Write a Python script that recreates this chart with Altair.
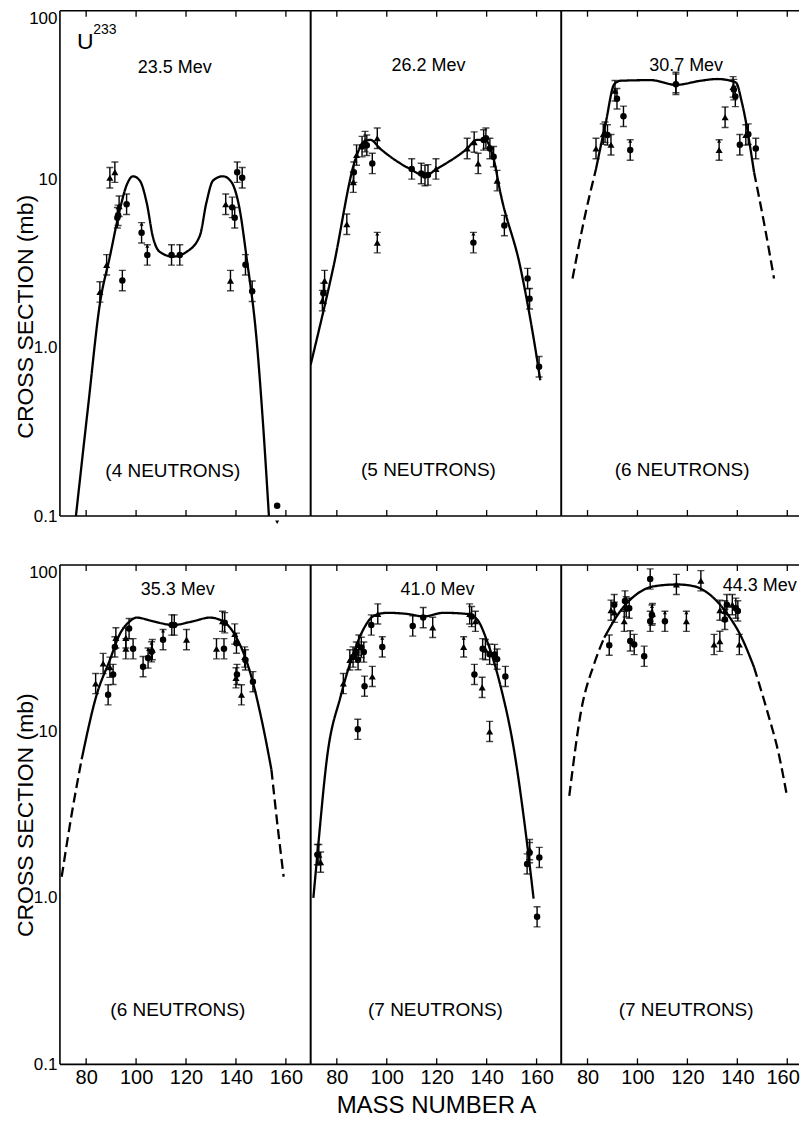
import altair as alt
import pandas as pd

FONT = "Liberation Sans"
X_DOMAIN = [69.5, 169.9]
X_DOMAIN_CUT = [69.5, 164.7]
Y_DOMAIN = [0.1, 100]
TICK_A = [80, 100, 120, 140, 160]
Y_LABELS = [0.1, 1, 10, 100]
REL_ERR = 0.15  # typical relative error bar

ENERGY = ["23.5 Mev", "26.2 Mev", "30.7 Mev", "35.3 Mev", "41.0 Mev", "44.3 Mev"]
ENERGY_A = [115.5, 116.7, 119.5, 116.7, 120.3, 134.2]
ENERGY_S = [45.9, 47.0, 47.0, 70.5, 70.5, 74.5]
NEUTRONS = ["(4 NEUTRONS)", "(5 NEUTRONS)", "(6 NEUTRONS)", "(6 NEUTRONS)", "(7 NEUTRONS)", "(7 NEUTRONS)"]
NEUTRONS_A = [114.7, 116.7, 117.9, 116.7, 119.5, 119.5]
NEUTRONS_S = [0.185, 0.187, 0.187, 0.211, 0.211, 0.211]
TARGET = "U"
TARGET_MASS = "233"
TARGET_A = [76.3, 82.8]
TARGET_S = [65.5, 76.9]

# curves: (A, sigma, part)  part: l/r = dashed extrapolation, m = measured region
CURVE_1 = [(75.9, 0.10, "m"), (80.8, 0.45, "m"), (85.5, 1.82, "m"), (89.5, 3.47, "m"), (93.5, 6.6, "m"),
           (96.2, 9.2, "m"), (98.8, 10.4, "m"), (101.5, 9.8, "m"), (104.2, 7.3, "m"), (106.8, 4.5, "m"),
           (109.5, 3.7, "m"), (114.8, 3.47, "m"), (120.2, 3.7, "m"), (125.5, 4.6, "m"), (128.2, 7.3, "m"),
           (130.8, 9.8, "m"), (134.8, 10.4, "m"), (138.2, 9.6, "m"), (141.5, 6.6, "m"), (144.2, 3.47, "m"),
           (148.2, 1.14, "m"), (150.8, 0.36, "m"), (153.2, 0.10, "m")]
CURVE_2 = [(69.5, 0.79, "m"), (78.6, 3.0, "m"), (87.5, 13.2, "m"), (90.8, 16.7, "m"), (93.5, 17.1, "m"),
           (97.3, 15.2, "m"), (109.3, 11.5, "m"), (115.3, 10.5, "m"), (120.0, 11.5, "m"), (132.2, 15.2, "m"),
           (136.0, 17.1, "m"), (139.3, 17.1, "m"), (142.8, 13.2, "m"), (145.5, 8.3, "m"), (153.5, 3.0, "m"),
           (158.8, 1.14, "m"), (161.5, 0.64, "m")]
CURVE_3 = [(74.0, 2.57, "l"), (78.7, 5.8, "l"), (83.4, 11.5, "l"),
           (83.4, 11.5, "m"), (87.4, 22.0, "m"), (90.7, 36.6, "m"), (93.4, 38.4, "m"), (105.4, 38.7, "m"),
           (115.4, 36.3, "m"), (125.4, 38.4, "m"), (132.0, 39.3, "m"), (139.4, 37.5, "m"), (142.0, 27.8, "m"),
           (146.7, 11.0, "m"),
           (146.7, 11.0, "r"), (150.7, 5.5, "r"), (154.7, 2.57, "r")]
CURVE_4 = [(70.2, 1.34, "l"), (74.2, 3.18, "l"), (78.2, 6.8, "l"),
           (78.2, 6.8, "m"), (84.2, 16.6, "m"), (89.5, 26.9, "m"), (93.5, 38.5, "m"), (97.5, 45.9, "m"),
           (100.2, 48.3, "m"), (106.8, 45.9, "m"), (114.8, 43.6, "m"), (122.8, 45.9, "m"), (129.5, 48.3, "m"),
           (134.8, 45.9, "m"), (140.2, 36.6, "m"), (145.5, 23.1, "m"), (150.8, 10.8, "m"), (154.2, 5.9, "m"),
           (154.2, 5.9, "r"), (156.8, 2.6, "r"), (159.1, 1.34, "r")]
CURVE_5 = [(70.6, 1.0, "m"), (72.2, 1.82, "m"), (76.2, 7.2, "m"), (81.5, 16.2, "m"), (86.8, 29.9, "m"),
           (90.8, 41.5, "m"), (94.8, 49.5, "m"), (100.2, 51.6, "m"), (108.2, 50.8, "m"), (114.8, 49.1, "m"),
           (122.8, 51.6, "m"), (132.2, 50.8, "m"), (136.2, 47.1, "m"), (140.2, 34.8, "m"), (145.5, 18.9, "m"),
           (150.8, 8.0, "m"), (156.2, 2.12, "m"), (158.8, 0.99, "m")]
CURVE_6 = [(72.7, 4.1, "l"), (77.4, 13.2, "l"), (82.7, 25.6, "l"), (86.7, 36.6, "l"),
           (86.7, 36.6, "m"), (93.4, 53.5, "m"), (100.0, 67.3, "m"), (106.7, 74.5, "m"), (116.0, 76.4, "m"),
           (122.7, 74.5, "m"), (129.4, 65.6, "m"), (136.0, 50.8, "m"), (141.4, 37.5, "m"), (146.7, 24.3, "m"),
           (146.7, 24.3, "r"), (152.0, 13.2, "r"), (156.7, 7.2, "r"), (160.0, 4.0, "r")]

# measured points: (A, sigma, limit)   limit: "" / "lower" / "upper"
TRI_1 = [(85.5, 2.14, ""), (88.2, 3.1, ""), (89.5, 10.2, ""), (91.5, 11.0, ""), (93.2, 6.9, ""),
         (135.9, 7.1, ""), (137.8, 2.5, "")]
CIR_1 = [(92.5, 5.9, ""), (92.8, 6.1, ""), (96.2, 7.1, ""), (94.5, 2.5, ""), (102.2, 4.8, "lower"),
         (104.5, 3.55, "lower"), (114.2, 3.55, ""), (117.5, 3.55, ""), (138.5, 6.8, ""), (139.5, 5.9, ""),
         (140.5, 11.0, ""), (142.5, 10.2, ""), (143.8, 3.1, ""), (146.5, 2.16, ""), (156.5, 0.115, "upper")]
TRI_2 = [(74.2, 1.9, ""), (75.1, 2.5, ""), (84.0, 5.4, ""), (86.6, 9.6, ""), (87.9, 13.9, ""),
         (91.3, 16.7, ""), (96.2, 17.5, ""), (96.2, 4.2, "lower"), (119.7, 11.5, ""), (132.2, 15.2, ""),
         (135.0, 16.6, ""), (136.6, 12.4, ""), (144.2, 9.8, "")]
CIR_2 = [(74.6, 2.1, ""), (86.8, 11.0, ""), (90.1, 15.6, ""), (92.0, 15.9, ""), (94.2, 12.4, ""),
         (110.0, 11.5, ""), (113.8, 10.8, ""), (115.3, 10.5, ""), (116.5, 10.6, ""), (134.7, 4.2, "lower"),
         (138.8, 17.1, ""), (139.7, 17.5, ""), (141.3, 15.2, ""), (142.8, 13.6, ""), (147.1, 5.3, ""),
         (156.4, 2.57, ""), (157.2, 1.95, ""), (161.0, 0.77, "")]
TRI_3 = [(83.4, 15.2, ""), (86.3, 18.5, ""), (87.0, 19.0, ""), (89.4, 16.0, ""), (91.0, 33.5, ""),
         (115.4, 37.5, ""), (132.7, 14.9, "lower"), (135.1, 23.3, ""), (138.3, 35.3, ""), (143.4, 18.3, "")]
CIR_3 = [(88.0, 18.3, ""), (91.8, 30.0, ""), (94.4, 23.6, ""), (97.1, 14.9, "lower"), (115.4, 36.6, ""),
         (138.6, 34.0, ""), (139.2, 31.0, ""), (141.0, 16.0, ""), (144.4, 18.5, ""), (147.4, 15.2, "")]
TRI_4 = [(83.8, 19.4, ""), (86.8, 25.6, ""), (89.5, 24.3, ""), (91.9, 36.5, ""), (95.9, 36.5, ""),
         (95.9, 31.4, ""), (106.5, 31.0, ""), (120.2, 35.6, ""), (132.2, 31.4, ""), (134.6, 45.9, ""),
         (139.5, 38.5, ""), (140.0, 21.0, ""), (142.2, 16.6, ""), (143.5, 28.0, "")]
CIR_4 = [(88.8, 16.6, ""), (90.8, 22.0, ""), (91.5, 32.2, ""), (97.2, 41.5, ""), (98.8, 31.4, ""),
         (102.8, 24.5, ""), (104.8, 27.6, "lower"), (106.2, 30.1, "lower"), (110.8, 35.6, "lower"),
         (114.3, 43.6, ""), (115.3, 43.6, ""), (135.2, 31.4, ""), (135.5, 45.0, ""), (140.2, 33.9, ""),
         (140.4, 22.0, ""), (143.8, 26.9, ""), (146.8, 19.9, "")]
TRI_5 = [(72.8, 1.82, ""), (73.5, 1.64, ""), (82.6, 19.4, ""), (85.2, 26.9, ""), (88.8, 33.0, ""),
         (94.2, 21.4, ""), (96.4, 50.8, ""), (118.4, 42.2, ""), (130.8, 32.2, "lower"), (133.2, 50.8, ""),
         (135.5, 45.9, ""), (138.2, 18.4, ""), (139.5, 31.0, ""), (141.2, 10.0, ""), (157.2, 1.95, "")]
CIR_5 = [(72.2, 1.82, ""), (86.5, 28.0, ""), (87.8, 30.0, ""), (88.5, 27.0, ""), (89.8, 32.0, ""),
         (90.8, 30.0, ""), (88.4, 10.3, ""), (91.1, 18.7, ""), (93.8, 43.6, ""), (98.2, 32.2, "lower"),
         (110.4, 43.0, ""), (114.6, 48.3, ""), (134.0, 49.0, ""), (135.1, 22.0, ""), (138.4, 31.4, ""),
         (141.2, 29.1, ""), (143.2, 29.0, ""), (144.2, 27.2, ""), (147.5, 21.4, ""), (156.2, 1.6, ""),
         (157.2, 1.87, ""), (161.1, 1.75, ""), (160.2, 0.77, "")]
TRI_6 = [(89.4, 53.5, ""), (90.8, 52.0, ""), (94.7, 45.9, ""), (95.5, 56.0, ""), (106.0, 51.0, ""),
         (115.6, 76.4, ""), (119.6, 45.9, "lower"), (125.4, 80.4, ""), (130.7, 33.3, ""), (133.0, 34.8, ""),
         (133.0, 53.5, ""), (135.0, 53.0, ""), (138.0, 57.8, ""), (140.8, 33.3, "")]
CIR_6 = [(88.7, 33.0, ""), (90.7, 57.8, ""), (95.0, 60.8, ""), (96.7, 55.0, ""), (97.1, 35.0, ""),
         (98.7, 33.3, ""), (102.7, 28.3, ""), (105.1, 82.4, ""), (105.1, 45.9, ""), (105.8, 50.0, "lower"),
         (111.0, 45.9, "lower"), (135.0, 47.1, ""), (135.8, 57.8, ""), (139.4, 55.0, ""), (140.2, 53.0, "")]

CURVES = [CURVE_1, CURVE_2, CURVE_3, CURVE_4, CURVE_5, CURVE_6]
TRIS = [TRI_1, TRI_2, TRI_3, TRI_4, TRI_5, TRI_6]
CIRS = [CIR_1, CIR_2, CIR_3, CIR_4, CIR_5, CIR_6]

W = 251
W_CUT = 238
H_TOP = 506
H_BOT = 500
ONE = pd.DataFrame({"k": [0]})


def panel(i, width, xdom, height, show_y, x_labels, x_title, title_y, right_border):
    xs = alt.Scale(domain=xdom, nice=False, zero=False)
    ys = alt.Scale(type="log", domain=Y_DOMAIN, nice=False)
    if x_labels:
        kw = {}
        if not right_border:
            kw = dict(labelFlush=20, labelFlushOffset=12)
        xaxis = alt.Axis(values=TICK_A, format="d", ticks=False, domain=False, grid=False,
                         labelFont=FONT, labelFontSize=20, labelColor="black", labelPadding=3,
                         title=x_title if x_title else None, titleFont=FONT, titleFontSize=24,
                         titleFontWeight="normal", titleColor="black", titlePadding=6, **kw)
    else:
        xaxis = None
    if show_y:
        yaxis = alt.Axis(values=Y_LABELS,
                         labelExpr="datum.value >= 10 ? format(datum.value, 'd') : format(datum.value, '.1f')",
                         ticks=False, domain=False, grid=False, labelFont=FONT, labelFontSize=17,
                         labelColor="black", labelPadding=3,
                         labelBaseline={"condition": {"test": "datum.value >= 100", "value": "top"}, "value": "middle"},
                         title="CROSS SECTION (mb)", titleFont=FONT, titleFontSize=23, titleFontWeight="normal",
                         titleColor="black", titleX=-27, titleY=title_y, titleBaseline="alphabetic")
    else:
        yaxis = None

    def X(field="A"):
        return alt.X(f"{field}:Q", scale=xs, axis=xaxis)

    def Y(field):
        return alt.Y(f"{field}:Q", scale=ys, axis=yaxis)

    curve = pd.DataFrame(CURVES[i], columns=["A", "sigma", "part"])
    pts = pd.DataFrame(
        [(a, s, l, "circle") for a, s, l in CIRS[i]] + [(a, s, l, "triangle") for a, s, l in TRIS[i]],
        columns=["A", "sigma", "limit", "kind"])
    ticks = pd.DataFrame({"A": TICK_A})

    line = alt.Chart(curve).mark_line(color="black", strokeWidth=2.3, interpolate="monotone", clip=True).encode(
        x=X(), y=Y("sigma"), detail="part:N",
        strokeDash=alt.StrokeDash("part:N", scale=alt.Scale(domain=["l", "m", "r"], range=[[10, 5], [1, 0], [10, 5]]),
                                  legend=None))
    base = alt.Chart(pts).transform_filter("datum.limit != 'upper'").transform_calculate(
        lo=f"datum.sigma / (1 + {REL_ERR})", hi=f"datum.sigma * (1 + {REL_ERR})")
    err = base.mark_rule(color="black", strokeWidth=1.4, clip=True).encode(x=X(), y=Y("lo"), y2="hi:Q")
    cap_lo = base.mark_tick(color="black", orient="horizontal", size=7, thickness=1.4, clip=True).encode(
        x=X(), y=Y("lo"))
    cap_hi = base.mark_tick(color="black", orient="horizontal", size=7, thickness=1.4, clip=True).encode(
        x=X(), y=Y("hi"))
    cir = alt.Chart(pts).transform_filter("datum.kind == 'circle'").mark_point(
        shape="circle", filled=True, size=42, color="black", opacity=1).encode(x=X(), y=Y("sigma"))
    tri = alt.Chart(pts).transform_filter("datum.kind == 'triangle'").mark_point(
        shape="triangle-up", filled=True, size=50, color="black", opacity=1).encode(x=X(), y=Y("sigma"))
    up = alt.Chart(pts).transform_filter("datum.limit == 'lower'").transform_calculate(
        ay="datum.sigma * 1.13").mark_point(shape="triangle-up", filled=True, size=16, color="black",
                                            opacity=1).encode(x=X(), y=Y("ay"))
    dn = alt.Chart(pts).transform_filter("datum.limit == 'upper'").transform_calculate(
        ay="datum.sigma * 0.8").mark_point(shape="triangle-down", filled=True, size=16, color="black",
                                           opacity=1).encode(x=X(), y=Y("ay"))
    texts = pd.DataFrame({"A": [ENERGY_A[i], NEUTRONS_A[i]], "sigma": [ENERGY_S[i], NEUTRONS_S[i]],
                          "label": [ENERGY[i], NEUTRONS[i]]})
    align = "left" if i == 5 else "center"
    etext = alt.Chart(texts.iloc[[0]]).mark_text(font=FONT, fontSize=18, color="black", align=align,
                                                  baseline="middle", clip=True).encode(
        x=X(), y=Y("sigma"), text="label:N")
    ntext = alt.Chart(texts.iloc[[1]]).mark_text(font=FONT, fontSize=19, color="black", align="center",
                                                  baseline="middle").encode(x=X(), y=Y("sigma"), text="label:N")
    top_t = alt.Chart(ticks).mark_rule(color="black", strokeWidth=1.3).encode(
        x=X(), y=alt.value(0), y2=alt.value(6))
    bot_t = alt.Chart(ticks).mark_rule(color="black", strokeWidth=1.3).encode(
        x=X(), y=alt.value(height), y2=alt.value(height - 6))
    # frame of the panel
    fl = alt.Chart(ONE).mark_rule(color="black", strokeWidth=1.6).encode(
        x=alt.value(0), y=alt.value(0), y2=alt.value(height))
    ft = alt.Chart(ONE).mark_rule(color="black", strokeWidth=1.6).encode(
        x=alt.value(0), x2=alt.value(width), y=alt.value(0))
    fb = alt.Chart(ONE).mark_rule(color="black", strokeWidth=1.6).encode(
        x=alt.value(0), x2=alt.value(width), y=alt.value(height))
    layers = [line, err, cap_lo, cap_hi, cir, tri, up, dn, etext, ntext, top_t, bot_t, fl, ft, fb]
    if right_border:
        fr = alt.Chart(ONE).mark_rule(color="black", strokeWidth=1.6).encode(
            x=alt.value(width), y=alt.value(0), y2=alt.value(height))
        layers.append(fr)
    if i == 0:
        tgt = pd.DataFrame({"A": TARGET_A, "sigma": TARGET_S, "label": [TARGET, TARGET_MASS]})
        u = alt.Chart(tgt.iloc[[0]]).mark_text(font=FONT, fontSize=23, color="black", align="left",
                                               baseline="middle").encode(x=X(), y=Y("sigma"), text="label:N")
        m = alt.Chart(tgt.iloc[[1]]).mark_text(font=FONT, fontSize=14, color="black", align="left",
                                               baseline="middle").encode(x=X(), y=Y("sigma"), text="label:N")
        layers += [u, m]
    return alt.layer(*layers).properties(width=width, height=height)


p1 = panel(0, W, X_DOMAIN, H_TOP, True, False, None, 306, True)
p2 = panel(1, W, X_DOMAIN, H_TOP, False, False, None, None, True)
p3 = panel(2, W_CUT, X_DOMAIN_CUT, H_TOP, False, False, None, None, False)
p4 = panel(3, W, X_DOMAIN, H_BOT, True, True, None, 250, True)
p5 = panel(4, W, X_DOMAIN, H_BOT, False, True, "MASS NUMBER A", None, True)
p6 = panel(5, W_CUT, X_DOMAIN_CUT, H_BOT, False, True, None, None, False)

row1 = alt.hconcat(p1, p2, p3, spacing=0, bounds="flush")
row2 = alt.hconcat(p4, p5, p6, spacing=0, bounds="flush")
chart = alt.vconcat(row1, row2, spacing=40).properties(
    padding={"left": 7, "top": 1, "right": 0, "bottom": 0},
    background="white",
).configure_view(stroke=None)

chart.save("out.html", embed_options={"renderer": "svg", "actions": False})
